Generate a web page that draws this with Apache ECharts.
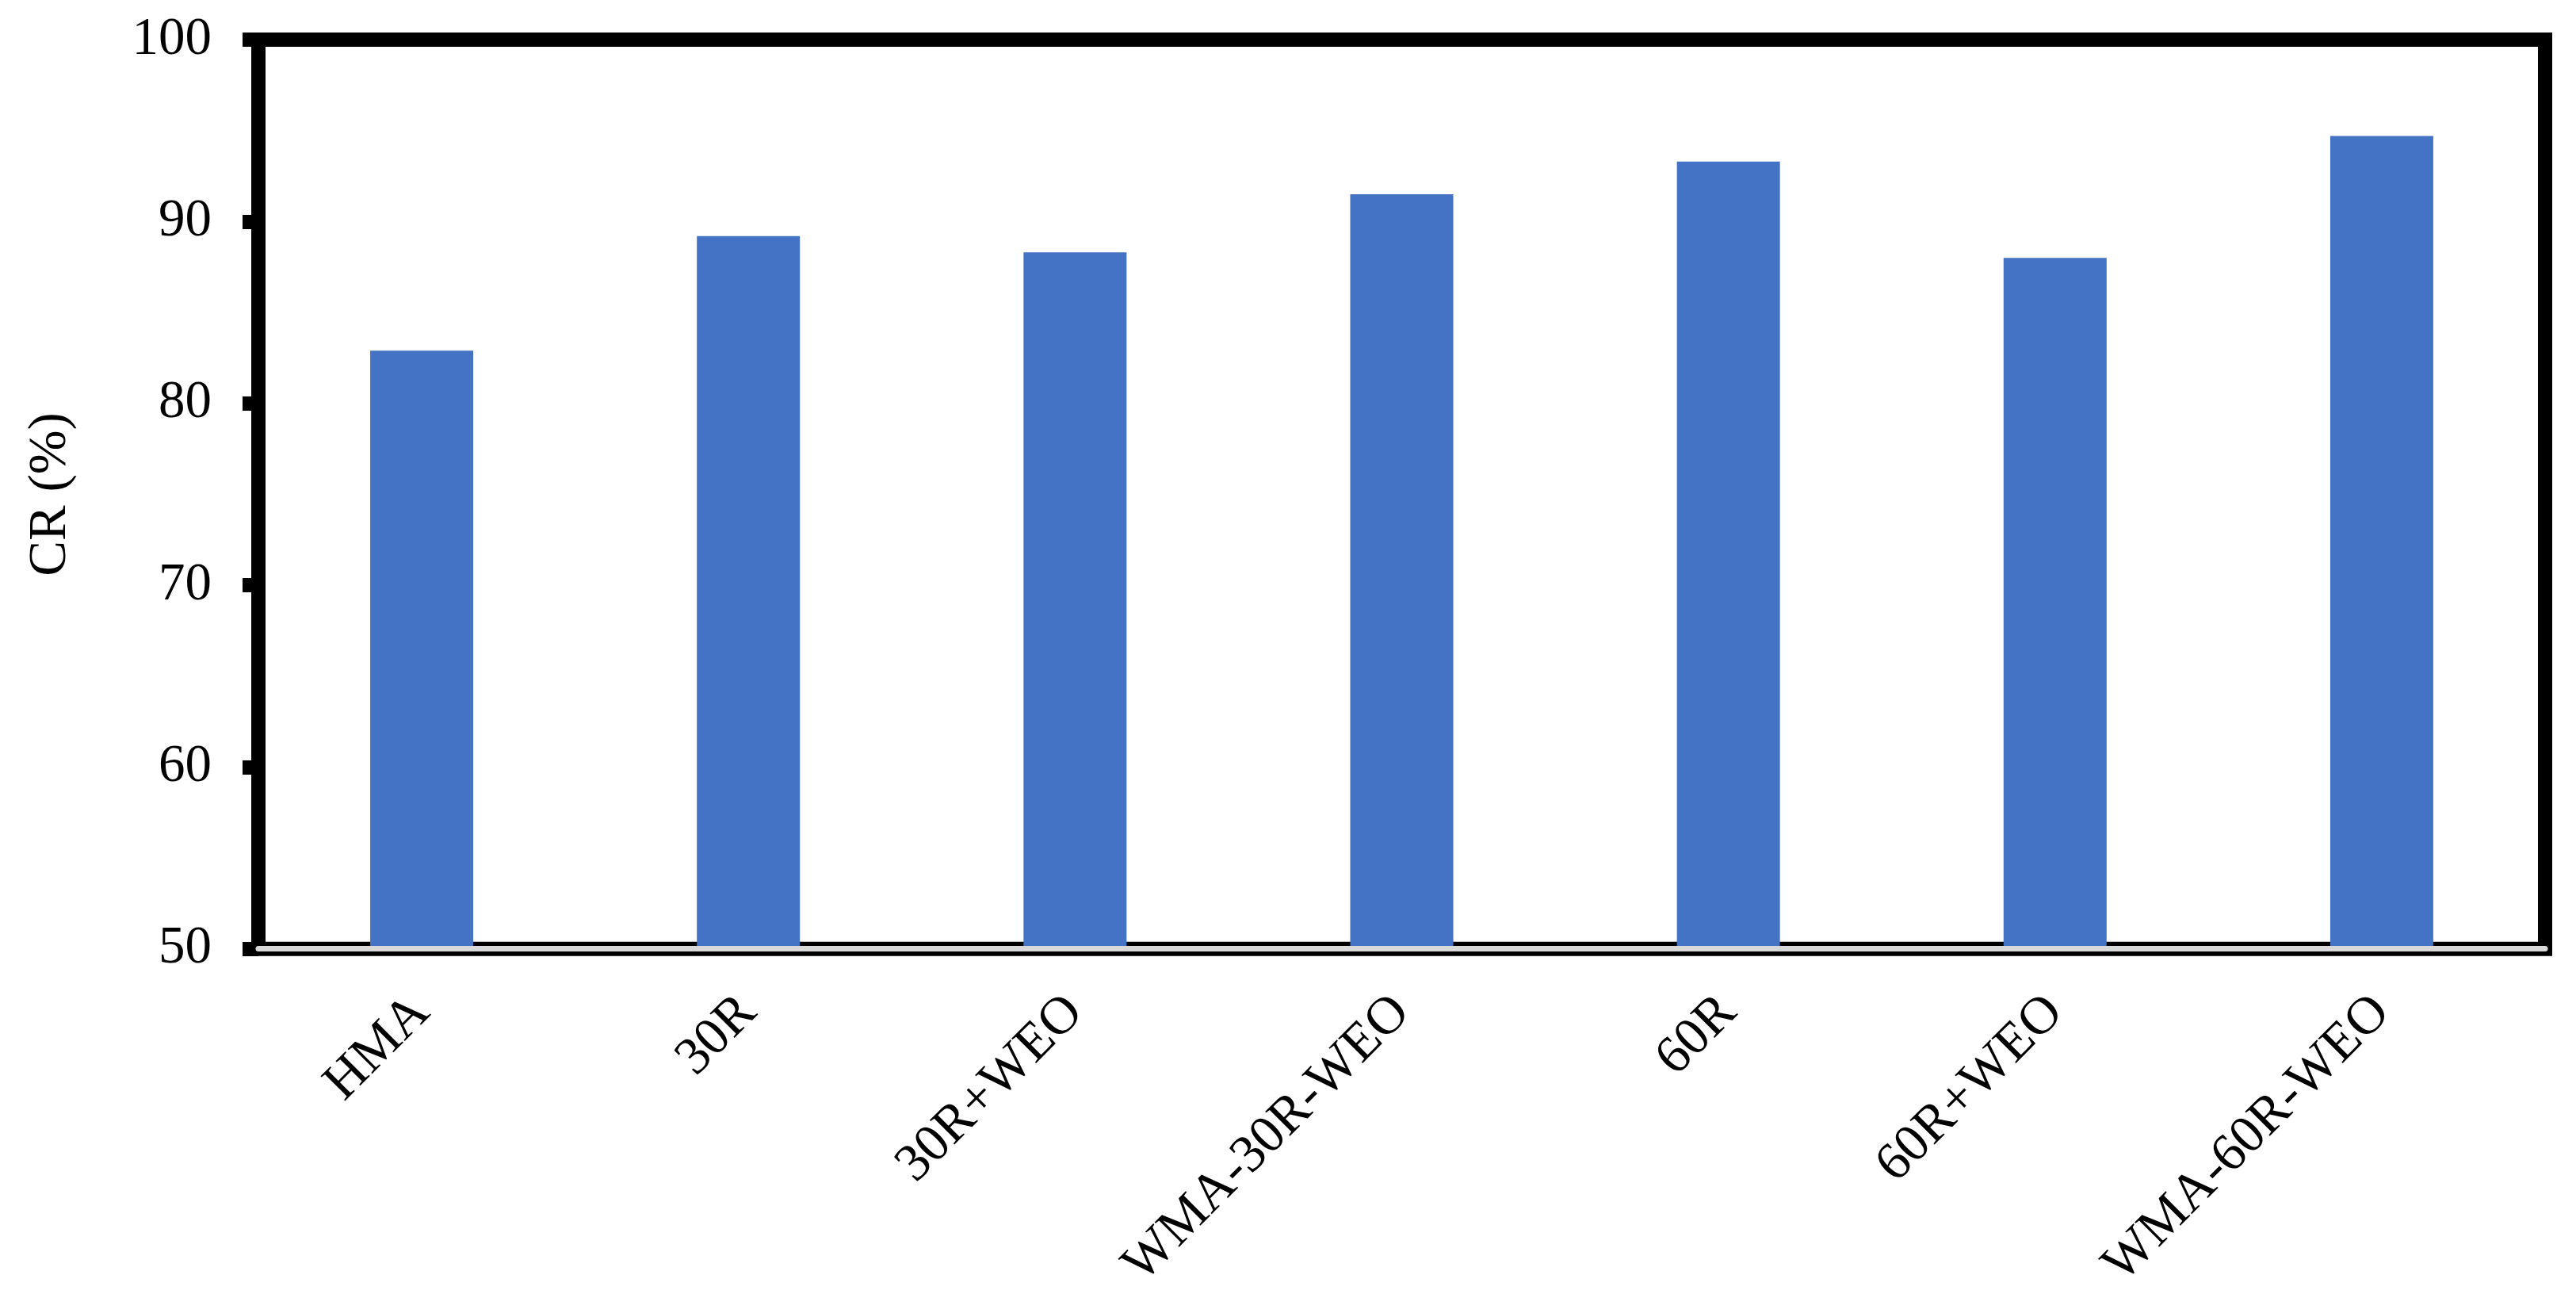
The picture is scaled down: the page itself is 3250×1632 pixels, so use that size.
<!DOCTYPE html>
<html>
<head>
<meta charset="utf-8">
<title>CR</title>
<script src="https://cdn.jsdelivr.net/npm/echarts@6/dist/echarts.min.js"></script>
<style>
    html, body { margin: 0; padding: 0; background: #fff; }
    #chart { width: 3250px; height: 1632px; }
</style>
</head>
<body>
<div id="chart"></div>
<script>
    // 数据
    const categories = ["HMA", "30R", "30R+WEO", "WMA-30R-WEO", "60R", "60R+WEO", "WMA-60R-WEO"];
    const crValues = [82.9, 89.2, 88.3, 91.5, 93.3, 88.0, 94.7];
    const yTicks = { min: 50, max: 100, step: 10 };

    const font = "'Liberation Serif', 'Times New Roman', serif";

    const myChart = echarts.init(document.getElementById("chart"));

    const option = {
        backgroundColor: "#ffffff",
        animation: false,
        grid: {
            left: 326,
            right: 39,
            top: 50,
            bottom: 428,
            show: true,
            borderColor: "#000000",
            borderWidth: 18,
        },
        xAxis: {
            type: "category",
            data: categories,
            z: 3,
            axisLine: {
                lineStyle: {
                    color: "#D9D9D9",
                    width: 7,
                },
            },
            axisTick: {
                show: false,
            },
            axisLabel: {
                interval: 0,
                rotate: 45,
                margin: 70,
                color: "#000000",
                fontFamily: font,
                fontSize: 67,
            },
        },
        yAxis: {
            type: "value",
            min: yTicks.min,
            max: yTicks.max,
            interval: yTicks.step,
            name: "CR (%)",
            nameLocation: "middle",
            nameRotate: 90,
            nameGap: 228,
            nameTextStyle: {
                color: "#000000",
                fontFamily: font,
                fontSize: 67,
            },
            splitLine: {
                show: false,
            },
            axisLine: {
                show: false,
            },
            axisTick: {
                show: true,
                inside: false,
                length: 20,
                lineStyle: {
                    color: "#000000",
                    width: 18,
                },
            },
            axisLabel: {
                margin: 59,
                color: "#000000",
                fontFamily: font,
                fontSize: 67,
            },
        },
        series: [{
            name: "CR",
            type: "bar",
            data: crValues,
            barWidth: 130,
            itemStyle: {
                color: "#4472C4",
            },
        }],
    };

    myChart.setOption(option);
    window.addEventListener("resize", () => myChart.resize(), false);
</script>
</body>
</html>
